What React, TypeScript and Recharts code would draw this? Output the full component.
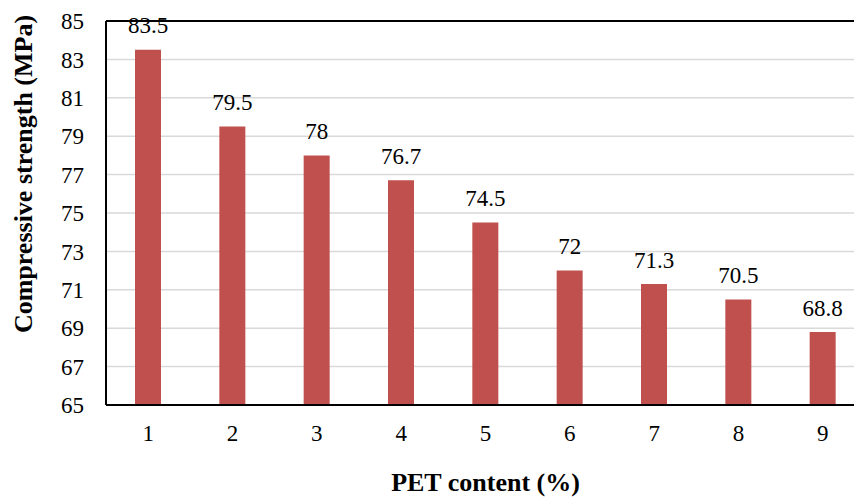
import React from "react";
import {
  BarChart,
  Bar,
  XAxis,
  YAxis,
  CartesianGrid,
  LabelList,
  Label,
  ReferenceLine,
} from "recharts";

// PET content (%) categories and measured compressive strength (MPa)
const petContent = ["1", "2", "3", "4", "5", "6", "7", "8", "9"];
const strength = [83.5, 79.5, 78, 76.7, 74.5, 72, 71.3, 70.5, 68.8];
const yTicks = [65, 67, 69, 71, 73, 75, 77, 79, 81, 83, 85];

const data = petContent.map((c, i) => ({ pet: c, value: strength[i] }));

const FONT = "'Liberation Serif', 'Times New Roman', serif";

const YTitle = () => (
  <text
    x={23}
    y={174}
    transform="rotate(-90, 23, 174)"
    textAnchor="middle"
    dominantBaseline="central"
    style={{ fontFamily: FONT, fontWeight: "bold", fontSize: 26 }}
    fill="#000"
  >
    Compressive strength (MPa)
  </text>
);

export default function App() {
  return (
    <div
      style={{
        position: "fixed",
        left: 0,
        top: 0,
        width: 854,
        height: 497,
        overflow: "hidden",
        background: "#fff",
      }}
    >
      <BarChart
        width={880}
        height={497}
        data={data}
        margin={{ top: 21, right: 15, bottom: 0, left: 0 }}
        barSize={26}
      >
        <CartesianGrid vertical={false} stroke="#d9d9d9" strokeWidth={1.5} />
        <XAxis
          dataKey="pet"
          height={92}
          tickLine={false}
          tickSize={0}
          tickMargin={20}
          axisLine={{ stroke: "#000", strokeWidth: 2 }}
          tick={{ style: { fontFamily: FONT }, fontSize: 23, fill: "#000" }}
        >
          <Label
            value="PET content (%)"
            position="insideBottom"
            offset={6}
            style={{
              fontFamily: FONT,
              fontWeight: "bold",
              fontSize: 26,
              fill: "#000",
            }}
          />
        </XAxis>
        <YAxis
          width={106}
          domain={[65, 85]}
          ticks={yTicks}
          interval={0}
          allowDataOverflow
          tickLine={false}
          tickSize={0}
          tickMargin={22}
          axisLine={{ stroke: "#000", strokeWidth: 2 }}
          tick={{ style: { fontFamily: FONT }, fontSize: 23, fill: "#000" }}
        >
          <Label content={<YTitle />} />
        </YAxis>
        <ReferenceLine y={85} stroke="#000" strokeWidth={2} />
        <Bar dataKey="value" fill="#C0504D" isAnimationActive={false}>
          <LabelList
            dataKey="value"
            position="top"
            offset={16.5}
            style={{ fontFamily: FONT, fontSize: 23, fill: "#000" }}
          />
        </Bar>
      </BarChart>
    </div>
  );
}
